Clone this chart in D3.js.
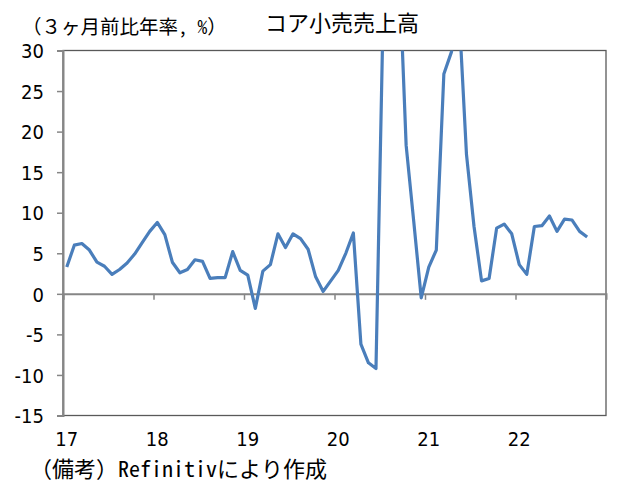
<!DOCTYPE html>
<html>
<head>
<meta charset="utf-8">
<script src="https://cdn.jsdelivr.net/npm/d3@7"></script>
<style>
  body { margin: 0; background: #fff; }
  svg text { font-family: "Noto Sans Mono CJK JP", "Noto Sans CJK JP", sans-serif; fill: #000; }
</style>
</head>
<body>
<div id="chart"></div>
<script>
// monthly data, Jan 2017 - Oct 2022
var startYear = 2017;
var coreRetail = [
  3.3, 6.0, 6.2, 5.4, 3.9, 3.4, 2.4, 3.0, 3.8, 4.9, 6.3, 7.7,
  8.8, 7.3, 3.9, 2.6, 3.0, 4.2, 4.0, 1.9, 2.0, 2.0, 5.2, 2.9,
  2.3, -1.8, 2.8, 3.6, 7.4, 5.7, 7.4, 6.8, 5.5, 2.1, 0.3, 1.6,
  2.9, 5.0, 7.5, -6.2, -8.5, -9.2, 37.0, 45.0, 42.0, 18.3, 9.0, -0.5,
  3.3, 5.4, 27.1, 29.8, 35.0, 17.2, 8.3, 1.6, 1.9, 8.1, 8.6, 7.4,
  3.6, 2.4, 8.3, 8.4, 9.6, 7.7, 9.2, 9.1, 7.7, 7.0
];
var yearLabels = ['17', '18', '19', '20', '21', '22'];
var yTicks = [30, 25, 20, 15, 10, 5, 0, -5, -10, -15];

var width = 643,
    height = 492,
    plotLeft = 63,
    plotRight = 606,
    plotTop = 50.5,
    plotBottom = 415.5;

var numFont = '"Liberation Sans Narrow", "DejaVu Sans Condensed", sans-serif';

var svg = d3.select('#chart').append('svg')
    .attr('width', width)
    .attr('height', height);

// month index scale, 72 months on the axis
var x = d3.scaleLinear().domain([0, 72]).range([plotLeft, plotRight]);
var y = d3.scaleLinear().domain([-15, 30]).range([plotBottom, plotTop]);

svg.append('clipPath').attr('id', 'plot-clip')
  .append('rect')
    .attr('x', plotLeft).attr('y', plotTop)
    .attr('width', plotRight - plotLeft).attr('height', plotBottom - plotTop);

// Frame
svg.append('rect')
    .attr('x', plotLeft).attr('y', plotTop)
    .attr('width', plotRight - plotLeft).attr('height', plotBottom - plotTop)
    .attr('fill', 'none')
    .attr('stroke', '#595959')
    .attr('stroke-width', 1.3);

// Y axis
var yAxis = d3.axisLeft(y).tickValues(yTicks).tickSize(6)
    .tickFormat(function(d) { return d < 0 ? '-' + Math.abs(d) : d; });
var gy = svg.append('g').attr('transform', 'translate(' + plotLeft + ',0)').call(yAxis);
gy.select('.domain').attr('stroke', '#868686').attr('stroke-width', 2);
gy.selectAll('.tick line').attr('stroke', '#868686').attr('stroke-width', 1.5);
gy.selectAll('.tick text')
    .attr('x', -19)
    .attr('dy', '0.36em')
    .style('font-size', '20px')
    .style('font-family', numFont);

// X axis at zero
var xAxis = d3.axisBottom(x).tickValues(d3.range(0, 72, 12)).tickSize(6).tickFormat('');
var gx = svg.append('g').attr('transform', 'translate(0,' + y(0) + ')').call(xAxis);
gx.select('.domain').attr('stroke', '#868686').attr('stroke-width', 2);
gx.selectAll('.tick line').attr('stroke', '#868686').attr('stroke-width', 1.5);

// Year labels under plot
svg.selectAll('.year')
    .data(yearLabels)
  .enter().append('text')
    .attr('class', 'year')
    .attr('x', function(d, i) { return x(i * 12 + 0.5); })
    .attr('y', 446)
    .attr('text-anchor', 'middle')
    .style('font-size', '20px')
    .style('font-family', numFont)
    .text(function(d) { return d; });

// Line
var line = d3.line()
    .x(function(d, i) { return x(i + 0.5); })
    .y(function(d) { return y(d); });

svg.append('path')
    .datum(coreRetail)
    .attr('clip-path', 'url(#plot-clip)')
    .attr('fill', 'none')
    .attr('stroke', '#4a7ebb')
    .attr('stroke-width', 3.2)
    .attr('stroke-linejoin', 'round')
    .attr('d', line);

// Titles
svg.append('text')
    .attr('x', 342).attr('y', 31)
    .attr('text-anchor', 'middle')
    .style('font-size', '22px')
    .text('コア小売売上高');

svg.append('text')
    .attr('x', 22).attr('y', 34)
    .style('font-size', '19.5px')
    .text('（３ヶ月前比年率, %）');

svg.append('text')
    .attr('x', 30).attr('y', 477)
    .style('font-size', '22px')
    .text('（備考）Refinitivにより作成');
</script>
</body>
</html>
